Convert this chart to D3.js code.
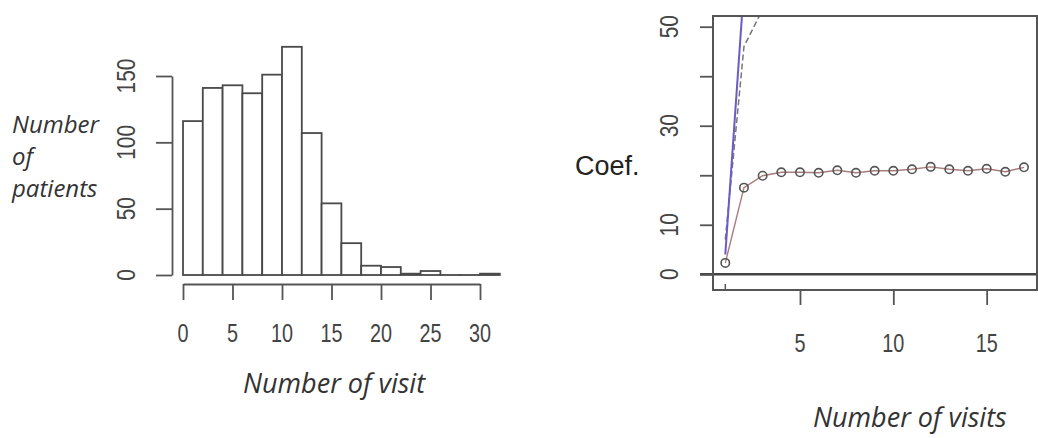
<!DOCTYPE html>
<html>
<head>
<meta charset="utf-8">
<script src="https://cdn.jsdelivr.net/npm/d3@7"></script>
<style>
  html, body { margin: 0; padding: 0; background: #fff; }
  svg { display: block; }
  .tick-label { font-family: "Liberation Sans", Arial, sans-serif; font-size: 22px; fill: #444; }
  .title-it { font-family: "Open Sans", sans-serif; font-style: italic; font-size: 27px; fill: #333; }
  .ylab { font-size: 24px; }
</style>
</head>
<body>
<svg id="chart" width="1038" height="438"></svg>
<script>
// ---------- Data ----------
const binStarts = [0, 2, 4, 6, 8, 10, 12, 14, 16, 18, 20, 22, 24, 26, 28, 30];
const binWidth = 2;
const patientCounts = [116, 141, 143, 137, 151, 172, 107, 54, 24, 7, 6, 1, 3, 0, 0, 1];
const histXTicks = [0, 5, 10, 15, 20, 25, 30];
const histYTicks = [0, 50, 100, 150];

const visits = [1, 2, 3, 4, 5, 6, 7, 8, 9, 10, 11, 12, 13, 14, 15, 16, 17];
const coefMean = [2.3, 17.5, 19.9, 20.6, 20.6, 20.5, 21.0, 20.5, 20.9, 20.9, 21.2, 21.7, 21.2, 20.9, 21.3, 20.7, 21.6];
const upperSolidVisits = [1, 2];
const upperSolid = [4, 58];
const upperDashedVisits = [1, 2, 3];
const upperDashed = [7, 46, 53.5];
const coefXTicks = [5, 10, 15];
const coefYTicks = [0, 10, 20, 30, 40, 50];
const coefYLabels = [0, 10, 30, 50];

const svg = d3.select("#chart");

// ---------- Left: histogram ----------
const hx = d3.scaleLinear().domain([0, 30]).range([183, 480]);
const hy = d3.scaleLinear().domain([0, 150]).range([275, 76]);

const hg = svg.append("g");
hg.selectAll("rect.bar")
  .data(binStarts.map((s, i) => ({ s, v: patientCounts[i] })))
  .enter().append("rect")
  .attr("class", "bar")
  .attr("x", d => hx(d.s))
  .attr("y", d => hy(d.v))
  .attr("width", d => hx(d.s + binWidth) - hx(d.s))
  .attr("height", d => Math.max(0.01, hy(0) - hy(d.v)))
  .attr("fill", "#fff")
  .attr("stroke", "#4a4a4a")
  .attr("stroke-width", 1.8);

// y axis
const hyAxis = hg.append("g")
  .attr("transform", "translate(172,0)")
  .call(d3.axisLeft(hy).tickValues(histYTicks).tickSize(16).tickSizeOuter(0).tickFormat(""));
hyAxis.selectAll("path, line").attr("stroke", "#555").attr("stroke-width", 1.8);
hg.selectAll("text.hyl")
  .data(histYTicks).enter().append("text")
  .attr("class", "tick-label hyl")
  .attr("text-anchor", "middle")
  .attr("transform", d => `translate(135,${hy(d)}) rotate(-90) scale(0.95,1.15)`)
  .text(d => d);

// x axis
const hxAxis = hg.append("g")
  .attr("transform", "translate(0,284)")
  .call(d3.axisBottom(hx).tickValues(histXTicks).tickSize(16).tickSizeOuter(0).tickFormat(""));
hxAxis.selectAll("path, line").attr("stroke", "#555").attr("stroke-width", 1.8);
hg.selectAll("text.hxl")
  .data(histXTicks).enter().append("text")
  .attr("class", "tick-label hxl")
  .attr("text-anchor", "middle")
  .attr("transform", d => `translate(${hx(d)},342) scale(0.9,1.15)`)
  .text(d => d);

hg.append("text").attr("class", "title-it").attr("x", 243).attr("y", 393).text("Number of visit");
const ylab = ["Number", "of", "patients"];
hg.selectAll("text.ylab").data(ylab).enter().append("text")
  .attr("class", "title-it ylab")
  .attr("x", 12)
  .attr("y", (d, i) => 133 + i * 32)
  .text(d => d);

// ---------- Right: coefficient plot ----------
const cx = d3.scaleLinear().domain([1, 17]).range([725.3, 1024]);
const cy = d3.scaleLinear().domain([0, 50]).range([274.3, 26.7]);
const box = { x0: 713, x1: 1037, y0: 16, y1: 290 };

const cg = svg.append("g");
cg.append("clipPath").attr("id", "plotclip")
  .append("rect").attr("x", box.x0).attr("y", box.y0)
  .attr("width", box.x1 - box.x0).attr("height", box.y1 - box.y0);

// zero line
cg.append("line")
  .attr("x1", 700).attr("x2", 1038)
  .attr("y1", cy(0)).attr("y2", cy(0))
  .attr("stroke", "#444").attr("stroke-width", 2.6);

const plot = cg.append("g").attr("clip-path", "url(#plotclip)");
const line = d3.line().x(d => cx(d[0])).y(d => cy(d[1]));

plot.append("path")
  .datum(upperDashedVisits.map((v, i) => [v, upperDashed[i]]))
  .attr("d", line).attr("fill", "none")
  .attr("stroke", "#777").attr("stroke-width", 1.5).attr("stroke-dasharray", "6,3");
plot.append("path")
  .datum(upperSolidVisits.map((v, i) => [v, upperSolid[i]]))
  .attr("d", line).attr("fill", "none")
  .attr("stroke", "#6a5cc4").attr("stroke-width", 2);
plot.append("path")
  .datum(visits.map((v, i) => [v, coefMean[i]]))
  .attr("d", line).attr("fill", "none")
  .attr("stroke", "#a97c7c").attr("stroke-width", 1.4);
plot.selectAll("circle")
  .data(visits.map((v, i) => [v, coefMean[i]]))
  .enter().append("circle")
  .attr("cx", d => cx(d[0])).attr("cy", d => cy(d[1]))
  .attr("r", 4.2).attr("fill", "none")
  .attr("stroke", "#555").attr("stroke-width", 1.6);

// box
cg.append("rect")
  .attr("x", box.x0).attr("y", box.y0)
  .attr("width", box.x1 - box.x0).attr("height", box.y1 - box.y0)
  .attr("fill", "none").attr("stroke", "#555").attr("stroke-width", 2);

// y axis ticks
const cyAxis = cg.append("g")
  .attr("transform", `translate(${box.x0},0)`)
  .call(d3.axisLeft(cy).tickValues(coefYTicks).tickSize(13).tickSizeOuter(0).tickFormat(""));
cyAxis.select("path").remove();
cyAxis.selectAll("line").attr("stroke", "#555").attr("stroke-width", 1.8);
cg.selectAll("text.cyl").data(coefYLabels).enter().append("text")
  .attr("class", "tick-label cyl")
  .attr("text-anchor", "middle")
  .attr("transform", d => `translate(678,${cy(d)}) rotate(-90) scale(0.95,1.15)`)
  .text(d => d);

// x axis ticks
const cxAxis = cg.append("g")
  .attr("transform", `translate(0,${box.y1})`)
  .call(d3.axisBottom(cx).tickValues(coefXTicks).tickSize(15).tickSizeOuter(0).tickFormat(""));
cxAxis.select("path").remove();
cxAxis.selectAll("line").attr("stroke", "#555").attr("stroke-width", 1.8);
cg.append("line")
  .attr("x1", cx(1)).attr("x2", cx(1))
  .attr("y1", box.y1 - 6).attr("y2", box.y1)
  .attr("stroke", "#555").attr("stroke-width", 1.5);
cg.selectAll("text.cxl").data(coefXTicks).enter().append("text")
  .attr("class", "tick-label cxl")
  .attr("text-anchor", "middle")
  .attr("transform", d => `translate(${cx(d)},352) scale(0.9,1.15)`)
  .text(d => d);

cg.append("text")
  .attr("x", 575).attr("y", 175)
  .attr("font-family", "Liberation Sans, Arial, sans-serif")
  .attr("font-size", 27).attr("fill", "#222")
  .text("Coef.");
cg.append("text").attr("class", "title-it").attr("x", 813).attr("y", 427).text("Number of visits");
</script>
</body>
</html>
